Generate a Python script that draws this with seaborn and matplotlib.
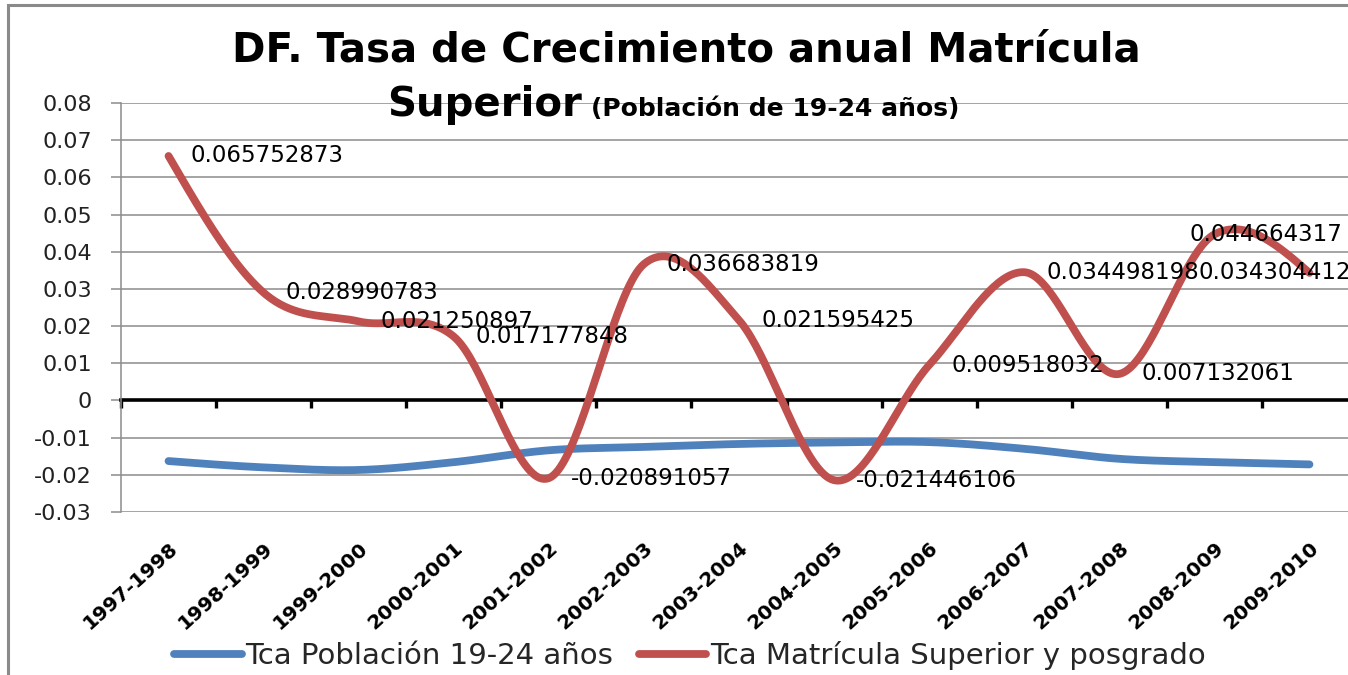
import numpy as np
import pandas as pd
import matplotlib
matplotlib.use("Agg")
import matplotlib.pyplot as plt
import seaborn as sns
from matplotlib.patches import Rectangle

# ---------------- data ----------------
periods = ["1997-1998", "1998-1999", "1999-2000", "2000-2001", "2001-2002",
           "2002-2003", "2003-2004", "2004-2005", "2005-2006", "2006-2007",
           "2007-2008", "2008-2009", "2009-2010"]
poblacion = [-0.0163, -0.0180, -0.0187, -0.0166, -0.0134, -0.0125, -0.0117,
             -0.0113, -0.0112, -0.0130, -0.0157, -0.0166, -0.0172]
matricula = [0.065752873, 0.028990783, 0.021250897, 0.017177848, -0.020891057,
             0.036683819, 0.021595425, -0.021446106, 0.009518032, 0.034498198,
             0.007132061, 0.044664317, 0.034304412]
matricula_labels = ["0.065752873", "0.028990783", "0.021250897", "0.017177848",
                    "-0.020891057", "0.036683819", "0.021595425", "-0.021446106",
                    "0.009518032", "0.034498198", "0.007132061", "0.044664317",
                    "0.034304412"]
series_names = ["Tca Población 19-24 años", "Tca Matrícula Superior y posgrado"]
y_ticks = [-0.03, -0.02, -0.01, 0.0, 0.01, 0.02, 0.03, 0.04, 0.05, 0.06, 0.07, 0.08]
y_tick_labels = ["-0.03", "-0.02", "-0.01", "0", "0.01", "0.02", "0.03",
                 "0.04", "0.05", "0.06", "0.07", "0.08"]

BLUE = "#4F81BD"
RED = "#C0504D"


def smooth(values, n=40):
    """Cubic Hermite (Catmull-Rom) smoothing, as in a 'smoothed line' chart."""
    y = np.asarray(values, dtype=float)
    k = len(y)
    m = np.zeros(k)
    m[1:-1] = (y[2:] - y[:-2]) / 2.0
    m[0] = (3 * (y[1] - y[0]) - m[1]) / 2.0
    m[-1] = (3 * (y[-1] - y[-2]) - m[-2]) / 2.0
    xs, ys = [], []
    for i in range(k - 1):
        t = np.linspace(0, 1, n, endpoint=(i == k - 2))
        h00 = 2 * t**3 - 3 * t**2 + 1
        h10 = t**3 - 2 * t**2 + t
        h01 = -2 * t**3 + 3 * t**2
        h11 = t**3 - t**2
        xs.append(i + t)
        ys.append(h00 * y[i] + h10 * m[i] + h01 * y[i + 1] + h11 * m[i + 1])
    return np.concatenate(xs), np.concatenate(ys)


sns.set_theme(style="white")
plt.rcParams["font.family"] = ["DejaVu Sans"]

W, H = 1348, 675
fig = plt.figure(figsize=(W / 100, H / 100), dpi=100)
fig.patch.set_facecolor("white")

left_px, right_px, top_px, bottom_px = 121, 1357, 103, 512
ax = fig.add_axes([left_px / W, 1 - bottom_px / H,
                   (right_px - left_px) / W, (bottom_px - top_px) / H])
ax.set_facecolor("white")

xb, yb = smooth(poblacion)
xr, yr = smooth(matricula)
df_b = pd.DataFrame({"x": xb, "y": yb})
df_r = pd.DataFrame({"x": xr, "y": yr})

sns.lineplot(data=df_b, x="x", y="y", sort=False, estimator=None, color=BLUE,
             lw=5.6, ax=ax, label=series_names[0], solid_capstyle="round", zorder=3)
sns.lineplot(data=df_r, x="x", y="y", sort=False, estimator=None, color=RED,
             lw=5.6, ax=ax, label=series_names[1], solid_capstyle="round", zorder=4)

ax.set_xlim(-0.5, len(periods) - 0.5)
ax.set_ylim(-0.03, 0.08)
ax.set_xlabel("")
ax.set_ylabel("")

# y axis
ax.set_yticks(y_ticks)
ax.set_yticklabels(y_tick_labels, fontsize=16, color="#222222")
ax.yaxis.grid(True, color="#8c8c8c", lw=1.1)
ax.xaxis.grid(False)
ax.tick_params(axis="y", direction="out", length=7, width=1.1, color="#8c8c8c",
               pad=14, left=True)
ax.spines["left"].set_color("#8c8c8c")
ax.spines["left"].set_linewidth(1.1)
ax.spines["top"].set_visible(False)
ax.spines["right"].set_visible(False)

# horizontal axis crosses at zero
ax.spines["bottom"].set_position(("data", 0))
ax.spines["bottom"].set_color("black")
ax.spines["bottom"].set_linewidth(2.6)
ax.spines["bottom"].set_zorder(2)
ax.set_xticks(np.arange(-0.5, len(periods), 1.0))
ax.set_xticklabels([])
ax.tick_params(axis="x", direction="out", length=6, width=2.4, color="black",
               bottom=True)

# category labels at bottom of plot area
sec = ax.secondary_xaxis(0.0)
sec.set_xticks(np.arange(len(periods)))
sec.set_xticklabels(periods, rotation=42, ha="right", rotation_mode="anchor",
                    fontsize=14.5, fontweight="bold", color="black")
sec.tick_params(axis="x", length=0, pad=19)
sec.spines["bottom"].set_visible(False)

# data labels
offsets = [(16, 0)] * 11 + [(-18, 0), (-80, 0)]
for i, (v, txt) in enumerate(zip(matricula, matricula_labels)):
    ax.annotate(txt, (i, v), xytext=offsets[i], textcoords="offset points",
                ha="left", va="center", fontsize=16.5, color="black",
                zorder=5, annotation_clip=False)

ax.get_legend().remove()
handles, labels = ax.get_legend_handles_labels()
fig.legend(handles, labels, loc="center", bbox_to_anchor=(690 / W, 1 - 656 / H),
           ncol=2, frameon=False, fontsize=21, handlelength=2.3,
           handletextpad=0.12, columnspacing=0.9)

# titles
fig.text(686 / W, 1 - 50 / H, "DF. Tasa de Crecimiento anual Matrícula",
         ha="center", va="center", fontsize=29, fontweight="bold", color="black")
fig.text(582 / W, 1 - 116 / H, "Superior", ha="right", va="baseline",
         fontsize=29, fontweight="bold", color="black")
fig.text(591 / W, 1 - 116 / H, "(Población de 19-24 años)", ha="left",
         va="baseline", fontsize=18, fontweight="bold", color="black")

# outer chart border (continues beyond the cropped right/bottom edges)
fig.patches.append(Rectangle((8 / W, -0.05), 1.2, 1.05 - 5 / H,
                             transform=fig.transFigure, fill=False,
                             edgecolor="#8a8a8a", lw=2.2, zorder=0))

fig.savefig("out.png", dpi=100)
